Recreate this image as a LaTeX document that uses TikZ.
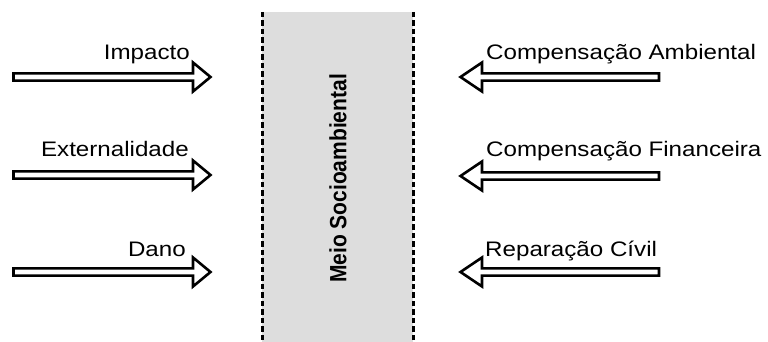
\documentclass[tikz,border=0pt]{standalone}
\usepackage{fontspec}
\setmainfont{Liberation Sans}
\definecolor{boxgray}{RGB}{221,221,221}
\begin{document}
\begin{tikzpicture}[x=1pt,y=1pt,
  fatarrow/.style={draw=black,fill=white,line width=2.6pt,miter limit=10},
  lbl/.style={font=\fontsize{21}{24}\selectfont,inner sep=0pt,xscale=1.15,transform shape},
  divider/.style={line width=3pt,dash pattern=on 5.5pt off 3pt}]
\useasboundingbox (0,0) rectangle (768,342);
% central box (y measured from top: Y = 342 - y)
\fill[boxgray] (262,0) rectangle (413,330);
\coordinate (lt) at (262,330); \coordinate (lb) at (262,0);
\coordinate (rt) at (413,330); \coordinate (rb) at (413,0);
\draw[divider] (lt) -- (lb);
\draw[divider] (rt) -- (rb);
\node[font=\bfseries\fontsize{21}{24}\selectfont,inner sep=0pt,xscale=1.12,rotate=90,transform shape] (meio) at (338,163.5) {Meio Socioambiental};
% left arrows (pointing right)
\foreach \n/\yy in {a/265,b/167,c/70}{
  \draw[fatarrow] (13.5,\yy+3.6) -- (193,\yy+3.6) -- (193,\yy+14.5) -- (210.5,\yy) -- (193,\yy-14.5) -- (193,\yy-3.6) -- (13.5,\yy-3.6) -- cycle;
}
% right arrows (pointing left)
\foreach \n/\yy in {d/265,e/166,f/70}{
  \draw[fatarrow] (659,\yy+3.6) -- (482,\yy+3.6) -- (482,\yy+14.5) -- (460.5,\yy) -- (482,\yy-14.5) -- (482,\yy-3.6) -- (659,\yy-3.6) -- cycle;
}
% labels
\node[lbl,anchor=base east] (l1) at (190,282.5) {Impacto};
\node[lbl,anchor=base east] (l2) at (189,185) {Externalidade};
\node[lbl,anchor=base east] (l3) at (186,85) {Dano};
\node[lbl,anchor=base west] (r1) at (486,282.5) {Compensação Ambiental};
\node[lbl,anchor=base west] (r2) at (486,185) {Compensação Financeira};
\node[lbl,anchor=base west] (r3) at (485,85) {Reparação Cívil};
\end{tikzpicture}
\end{document}
